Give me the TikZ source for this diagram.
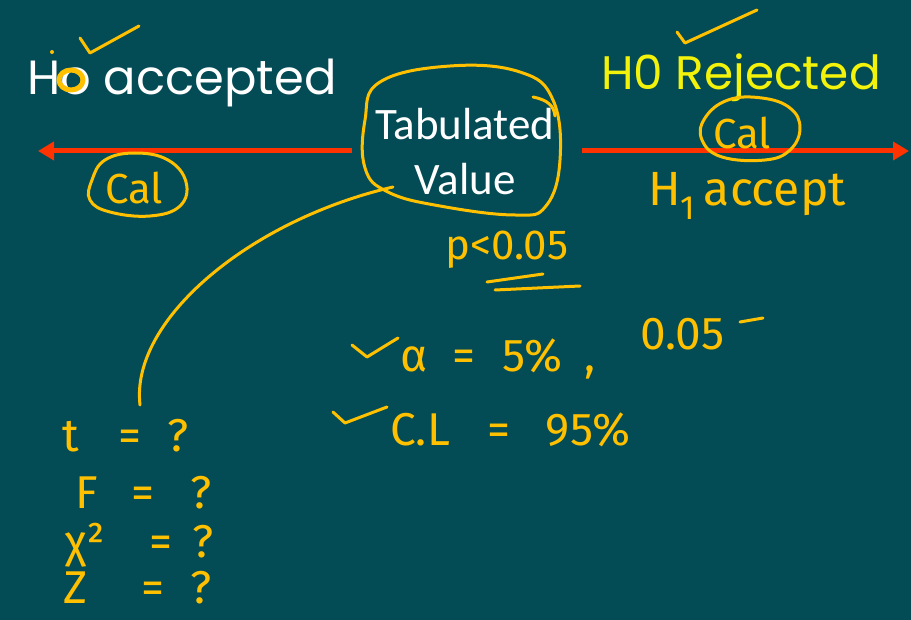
\documentclass[tikz,border=0pt]{standalone}
\usepackage{fontspec}
\usetikzlibrary{arrows.meta}
\setmainfont{Poppins}
\newfontfamily\calib{Carlito}
\newfontfamily\hand{Fira Sans}
\definecolor{board}{HTML}{034B55}
\definecolor{ink}{HTML}{FFC000}
\definecolor{arrowred}{HTML}{FF3300}
\definecolor{slideyellow}{HTML}{F2F20A}

\begin{document}
\begin{tikzpicture}[x=1pt,y=-1pt,
  pen/.style={draw=ink,line width=3pt,line cap=round,line join=round},
  handtext/.style={text=ink,font=\hand\fontsize{46}{46}\selectfont,inner sep=0pt,anchor=base west},
  redarrow/.style={draw=arrowred,line width=5pt,-{Triangle[length=16pt,width=18pt]}}]
\fill[board] (0,0) rectangle (911,620);
\useasboundingbox (0,0) rectangle (911,620);
% slide text
\node[text=white,font=\fontsize{48}{48}\selectfont,anchor=base west,inner sep=0pt] (hoacc) at (27,95) {Ho accepted};
\node[text=slideyellow,font=\fontsize{47}{47}\selectfont,anchor=base west,inner sep=0pt] (horej) at (601,90) {H0 Rejected};
\node[text=white,font=\calib\fontsize{45}{55}\selectfont,align=center,inner sep=0pt] (tab) at (465,152) {Tabulated\\Value};
% red arrows
\coordinate (lstart) at (352,151); \coordinate (lend) at (38,151);
\coordinate (rstart) at (582,151); \coordinate (rend) at (909,151);
\draw[redarrow] (lstart) -- (lend);
\draw[redarrow] (rstart) -- (rend);
% ticks and marks on the headings
\draw[pen,line width=5pt] (71,80) ellipse (12 and 10);
\fill[ink] (52,52) circle (2);
\draw[pen] (80,38) -- (90,53) -- (139,26);
\draw[pen] (677,32) -- (685,43) -- (757,10);
% circles
\draw[pen] plot[smooth cycle,tension=0.7] coordinates {(380,82) (450,66) (520,72) (553,100) (560,160) (546,206) (515,215) (440,206) (388,192) (365,168) (365,120)};
\draw[pen] (533,97) .. controls (548,100) and (554,106) .. (555,116);
\draw[pen] plot[smooth cycle,tension=0.7] coordinates {(92,180) (105,160) (135,153) (168,160) (186,182) (180,206) (150,216) (110,212) (90,200)};
\draw[pen] plot[smooth cycle,tension=0.7] coordinates {(705,118) (728,100) (762,98) (790,108) (800,128) (790,150) (765,160) (722,157) (702,140)};
\node[handtext,anchor=center,font=\hand\fontsize{42}{42}\selectfont] (calleft) at (134,188) {Cal};
\node[handtext,anchor=center,font=\hand\fontsize{42}{42}\selectfont] (calright) at (742,133) {Cal};
\node[handtext,font=\hand\fontsize{48}{48}\selectfont] (hone) at (648,206) {H\textsubscript{1}\hspace{8pt}accept};
% p value
\node[handtext,font=\hand\fontsize{42}{42}\selectfont] (pval) at (445,260) {p<0.05};
\draw[pen] (487,282) -- (543,274);
\draw[pen] (495,290) -- (580,286);
% alpha and confidence level
\draw[pen] (352,345) -- (367,357) -- (398,338);
\node[handtext] (alpha) at (400,372) {α\hspace{25pt}=\hspace{27pt}5\%\hspace{22pt},};
\node[handtext] (alphaval) at (640,350) {0.05};
\draw[pen] (740,322) -- (763,318);
\draw[pen] (333,412) -- (345,423) -- (387,407);
\node[handtext] (conf) at (390,446) {C.L\hspace{38pt}=\hspace{35pt}95\%};
% test statistics
\node[handtext] (teq) at (62,452) {t\hspace{40pt}=\hspace{26pt}?};
\node[handtext] (feq) at (75,508) {F\hspace{34pt}=\hspace{36pt}?};
\node[handtext] (chieq) at (65,557) {χ²\hspace{44pt}=\hspace{20pt}?};
\node[handtext] (zeq) at (63,603) {Z\hspace{54pt}=\hspace{26pt}?};
\coordinate (tailtop) at (393,187);
\coordinate (tailend) at (140,405);
\draw[pen] (tailtop) .. controls (250,220) and (130,320) .. (tailend);
\end{tikzpicture}
\end{document}
